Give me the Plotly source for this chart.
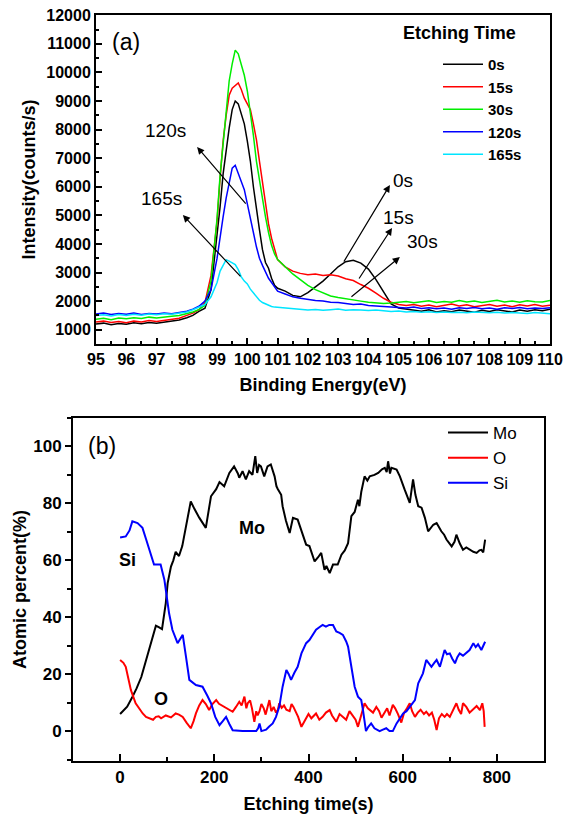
import plotly.graph_objects as go

# ---------------- Panel (a): XPS spectra ----------------
energy = [95.0, 95.25, 95.5, 95.75, 96.0, 96.25, 96.5, 96.75, 97.0, 97.25, 97.5, 97.75,
          98.0, 98.2, 98.4, 98.6, 98.8,
          99.0, 99.1, 99.2, 99.3, 99.4, 99.5, 99.6, 99.7, 99.8, 99.9,
          100.0, 100.1, 100.2, 100.3, 100.4, 100.5, 100.6, 100.7, 100.8, 100.9, 101.0,
          101.25, 101.5, 101.75, 102.0, 102.25, 102.5, 102.75, 103.0, 103.25, 103.5, 103.75,
          104.0, 104.25, 104.5, 104.75, 105.0, 105.25, 105.5, 105.75, 106.0, 106.25, 106.5,
          106.75, 107.0, 107.25, 107.5, 107.75, 108.0, 108.25, 108.5, 108.75, 109.0, 109.25,
          109.5, 109.75, 110.0]

int_0s = [1200, 1230, 1170, 1220, 1190, 1240, 1210, 1250, 1230, 1270, 1300, 1340,
          1420, 1500, 1640, 1750, 2400,
          4300, 5300, 6450, 7300, 8050, 8700, 9000, 8900, 8500, 8200,
          7600, 6900, 6000, 5200, 4500, 3800, 3350, 3150, 2800, 2550, 2450,
          2350, 2200, 2150, 2300, 2500, 2700, 2950, 3200, 3380, 3430, 3330,
          3120, 2750, 2300, 1900, 1760, 1720, 1680, 1650, 1700, 1620, 1660,
          1630, 1690, 1640, 1610, 1680, 1640, 1700, 1650, 1620, 1690, 1650,
          1700, 1660, 1720]

int_15s = [1270, 1300, 1250, 1290, 1240, 1300, 1270, 1320, 1290, 1330, 1360, 1400,
           1500, 1580, 1700, 1950, 2900,
           4800, 6300, 7600, 8500, 9200, 9450, 9550, 9630, 9400, 9100,
           8900, 8700, 8200, 7650, 6900, 6100, 5400, 4700, 4200, 3800, 3450,
           3200, 3050, 2970, 2920, 2950, 2900, 2920, 2880, 2780, 2720, 2580,
           2450, 2280, 2100, 1960, 1880, 1850, 1880, 1820, 1860, 1800, 1850,
           1900, 1830, 1870, 1800, 1850, 1880, 1820, 1860, 1800, 1870, 1830,
           1880, 1820, 1860]

int_30s = [1370, 1400, 1350, 1410, 1380, 1420, 1390, 1440, 1410, 1450, 1470, 1500,
           1560, 1620, 1700, 1850, 2700,
           4900, 6400, 7600, 8700, 9700, 10300, 10780, 10650, 10300, 9900,
           9350, 8600, 7800, 6900, 6200, 5500, 4950, 4400, 3950, 3650, 3450,
           3200, 2950, 2750, 2550, 2400, 2280, 2180, 2130, 2080, 2040, 2000,
           1960, 1940, 1920, 1930, 1950, 1990, 1940, 1980, 2010, 1950, 1990,
           1960, 2020, 1970, 2000, 1950, 1990, 2030, 1970, 2000, 1960, 2010,
           1980, 1970, 2020]

int_120s = [1550, 1580, 1530, 1570, 1540, 1580, 1530, 1570, 1550, 1580, 1560, 1600,
            1650, 1720, 1820, 2000, 2400,
            3500, 4300, 4950, 5600, 6100, 6650, 6750, 6450, 6150, 5900,
            5400, 4950, 4400, 3900, 3500, 3250, 3000, 2800, 2650, 2500, 2350,
            2250, 2150, 2100, 2050, 2020, 2000, 1960, 1950, 1910, 1880, 1900,
            1850, 1830, 1820, 1800, 1780, 1760, 1790, 1740, 1770, 1730, 1760,
            1720, 1770, 1740, 1780, 1730, 1760, 1720, 1770, 1740, 1780, 1730,
            1760, 1740, 1770]

int_165s = [1500, 1520, 1480, 1530, 1500, 1540, 1510, 1550, 1520, 1560, 1540, 1580,
            1620, 1700, 1780, 1880, 2150,
            2650, 3050, 3250, 3450, 3400, 3330, 3280, 3100, 2850, 2700,
            2600, 2420, 2280, 2150, 2030, 1950, 1900, 1850, 1810, 1790, 1780,
            1750, 1720, 1700, 1690, 1710, 1680, 1700, 1720, 1680, 1700, 1690,
            1670, 1690, 1660, 1640, 1650, 1620, 1640, 1610, 1630, 1600, 1620,
            1600, 1610, 1590, 1620, 1600, 1590, 1610, 1580, 1600, 1590, 1570,
            1600, 1580, 1560]

spectra_names = ["0s", "15s", "30s", "120s", "165s"]
spectra_colors = ["#000000", "#ff0000", "#00ee00", "#0000ff", "#00e5ff"]
spectra_values = [int_0s, int_15s, int_30s, int_120s, int_165s]

# arrow labels: label positions, arrow heads and tails (data coordinates)
arrow_labels = ["120s", "165s", "0s", "15s", "30s"]
arrow_label_pos = [(97.28, 7980), (97.15, 5600), (105.15, 6230), (105.0, 4940), (105.8, 4070)]
arrow_heads = [(98.34, 7390), (97.87, 5010), (104.71, 6060), (104.78, 4560), (105.04, 3540)]
arrow_tails = [(99.99, 5360), (99.82, 2810), (103.16, 3330), (103.66, 2740), (103.39, 2110)]

# ---------------- Panel (b): depth profile ----------------
mo_t = [0, 8, 15, 26, 35, 45, 55, 65, 72, 76, 82, 89, 97, 101, 108, 113, 118, 125, 132, 140,
        150, 158, 168, 182, 193, 204, 211, 221, 232, 242, 250, 253, 260, 267, 274, 281, 287,
        291, 295, 299, 306, 313, 320, 328, 332, 335, 342, 345, 352, 360, 367, 377, 388, 395,
        402, 413, 420, 427, 434, 438, 445, 452, 462, 470, 477, 484, 491, 498, 505, 508, 512,
        519, 525, 530, 540, 548, 556, 562, 566, 569, 573, 576, 587, 594, 604, 610, 615, 622,
        627, 633, 640, 647, 654, 665, 672, 682, 688, 693, 700, 704, 710, 714, 721, 728, 735,
        742, 750, 757, 763, 767, 771, 775]
mo_v = [6, 7.5, 8.6, 12, 15, 19, 25, 31, 34.5, 37, 36.5, 35.8, 45, 52, 57.8, 60, 63, 61.5, 65, 72,
        80.7, 78, 75, 71.4, 82.5, 85, 87.5, 86, 90.7, 93, 90.5, 89, 91.3, 88.4, 91.3, 90, 96.6,
        90.7, 93.5, 93, 89.5, 93, 93.7, 89.5, 86, 85, 83, 79, 74, 69.6, 74.9, 74.3, 68.4, 65.5,
        65, 59.6, 61, 62.6, 56.7, 58, 55.5, 58.5, 58.5, 62, 63.5, 66, 75.5, 77, 81.3, 79, 84,
        89.5, 88, 89.5, 90, 90.7, 92, 92.5, 91, 94.8, 90.5, 92.5, 91.9, 89.5, 84.9, 82, 80.2, 88.4,
        83, 79, 78.5, 75, 70.2, 72.5, 73.1, 70.2, 69, 67.3, 66, 64.9, 66.5, 69, 66, 63.7, 64.5,
        63.7, 63, 62.6, 63.5, 63.7, 62.8, 67.3]

o_t = [0, 7, 12, 18, 23, 33, 40, 48, 55, 62, 70, 76, 82, 87, 97, 108, 118, 125, 133, 141,
       150, 156, 161, 168, 175, 182, 189, 196, 204, 210, 214, 225, 232, 239, 246, 253, 258,
       264, 268, 271, 276, 280, 285, 289, 292, 296, 300, 305, 309, 313, 317, 321, 326, 331,
       335, 338, 343, 348, 353, 360, 364, 368, 373, 378, 385, 390, 395, 400, 406, 411, 416,
       423, 430, 437, 445, 450, 455, 459, 466, 473, 480, 487, 494, 500, 505, 512, 519, 526,
       533, 537, 544, 550, 555, 562, 567, 572, 579, 584, 590, 597, 603, 609, 615, 620, 626,
       632, 638, 645, 650, 656, 662, 667, 672, 677, 683, 689, 694, 700, 706, 710, 714, 719,
       724, 728, 735, 742, 749, 757, 764, 769, 772, 774]
o_v = [25, 24, 22.6, 18, 14.4, 9.8, 8, 6.2, 5, 4.5, 4, 5, 5.2, 4.5, 5.5, 4.8, 6.2, 5.8, 5, 3,
       1, 3.5, 6.2, 9, 10.9, 9.5, 7.4, 9.5, 10.9, 9.6, 9.2, 8, 7.2, 6.8, 8.5, 10.3, 9,
       12.1, 8, 9.8, 10.8, 8, 3.3, 7, 5.5, 7, 9.5, 8, 5.8, 8.2, 10.9, 7, 8.5, 6.5,
       7.5, 9.8, 8.2, 9, 7.5, 7, 9.5, 8.5, 7, 5, 1.5, 3, 4, 6, 4.5, 5.5, 6.2,
       4, 5, 6.5, 7.4, 5.5, 4.5, 3.3, 6, 5, 4, 7, 5.5, 4, 1.5, 6, 9.8, 8,
       7, 6.5, 8.5, 7, 4.7, 6.5, 8, 5.5, 9.2, 8, 6, 3, 6.5, 8, 9.8, 7, 5,
       6.5, 7.5, 6, 6.8, 5.5, 6.5, 4, 0.4, 4.5, 6, 5, 6, 5, 7, 8.5, 9.8, 7.5,
       6, 9.8, 8.5, 6.5, 7.5, 8.8, 7.4, 9.8, 7, 1.5]

si_t = [0, 12, 20, 26, 37, 47.5, 55, 62, 72, 86, 94, 104, 111, 122, 133, 140, 147, 161, 175,
        185, 193, 202, 211, 218, 225, 232, 239, 260, 289, 293, 296, 300, 310, 316, 324, 331,
        338, 345, 353, 358, 363, 370, 377, 385, 395, 402, 409, 416, 423, 430, 437, 444, 452,
        459, 466, 473, 480, 484, 491, 498, 505, 512, 516, 519, 522, 527, 533, 540, 551, 558,
        565, 572, 579, 587, 594, 601, 608, 615, 620, 626, 633, 638, 643, 650, 656, 661, 667,
        672, 679, 684, 689, 694, 700, 705, 711, 716, 721, 728, 735, 742, 750, 755, 760, 767, 775]
si_v = [68, 68.4, 70.5, 73.7, 73.1, 71.4, 67.5, 63.7, 58.5, 58.5, 53.2, 41.4, 35.6, 30.9, 33.8,
        26, 18, 16.2, 15.6, 12.5, 9.8, 5, 2.1, 3.5, 5, 2.5, 0.3, 0, 0, 1, 2.7, 0, 0.5, 1.5,
        2.7, 5, 8.6, 15.6, 21.5, 20, 18, 20.5, 22.6, 27.3, 30.9, 32, 34, 35.6, 36.5, 37.3,
        36.7, 37.3, 37.3, 35, 34.5, 33.8, 31.5, 29.7, 22.6, 15.6, 12.1, 10.9, 7, 2.7, 0, 1.5,
        2.7, 1, 0, 0.5, 1, 0, 0, 2.7, 4.5, 6.2, 7, 8.6, 9.5, 10.9, 16.8, 18.5, 20.3, 25,
        23.5, 22.6, 24, 25, 22.6, 25.5, 28.5, 27, 27.3, 25.5, 23.8, 26, 27.3, 26.5, 27.5,
        28.5, 30.9, 29.5, 30.5, 28.5, 31.4]

profile_names = ["Mo", "O", "Si"]
profile_colors = ["#000000", "#ff0000", "#0000ff"]
profile_t = [mo_t, o_t, si_t]
profile_v = [mo_v, o_v, si_v]

# in-plot labels of panel (b): (text, t, value)
profile_labels = [("Si", 15, 60), ("Mo", 281, 71.5), ("O", 87, 11.3)]

# ---------------- figure ----------------
# the page body adds an 8px offset, so the figure is 8px smaller than the window
OFF = 8
W, H = 573 - OFF, 817 - OFF
ML, MR, MT, MB = 73 - OFF, 573 - 550, 15 - OFF, 817 - 761
PW, PH = W - ML - MR, H - MT - MB


def fx(px):
    # screen pixel x -> paper fraction
    return min(1.0, max(0.0, (px - OFF - ML) / PW))


def fy(py):
    # screen pixel y -> paper fraction
    return min(1.0, max(0.0, (H - MB - (py - OFF)) / PH))


FONT = "Liberation Sans, Arial, sans-serif"

fig = go.Figure()

for name, color, vals in zip(spectra_names, spectra_colors, spectra_values):
    fig.add_trace(go.Scatter(x=energy, y=vals, mode="lines", name=name,
                             line=dict(color=color, width=1.5),
                             xaxis="x", yaxis="y", legend="legend"))

for name, color, t, v in zip(profile_names, profile_colors, profile_t, profile_v):
    fig.add_trace(go.Scatter(x=t, y=v, mode="lines", name=name,
                             line=dict(color=color, width=2),
                             xaxis="x2", yaxis="y2", legend="legend2"))

annotations = []
for lab, (lx, ly), (hx, hy), (tx, ty) in zip(arrow_labels, arrow_label_pos, arrow_heads, arrow_tails):
    annotations.append(dict(x=hx, y=hy, ax=tx, ay=ty, xref="x", yref="y", axref="x", ayref="y",
                            text="", showarrow=True, arrowhead=2, arrowsize=1.2, arrowwidth=1.2,
                            arrowcolor="#000000"))
    annotations.append(dict(x=lx, y=ly, xref="x", yref="y", text=lab, showarrow=False,
                            font=dict(family=FONT, size=19, color="#000000")))

annotations.append(dict(x=96.0, y=11056, xref="x", yref="y", text="(a)", showarrow=False,
                        font=dict(family=FONT, size=23, color="#000000")))
annotations.append(dict(x=107.02, y=11370, xref="x", yref="y", text="Etching Time", showarrow=False,
                        font=dict(family=FONT, size=18, color="#000000", weight="bold")))
annotations.append(dict(x=-38, y=100, xref="x2", yref="y2", text="(b)", showarrow=False,
                        font=dict(family=FONT, size=23, color="#000000")))
for lab, t, v in profile_labels:
    annotations.append(dict(x=t, y=v, xref="x2", yref="y2", text=lab, showarrow=False,
                            font=dict(family=FONT, size=18, color="#000000", weight="bold")))

tickfont = dict(family=FONT, size=16, color="#000000", weight="bold")
titlefont = dict(family=FONT, size=18, color="#000000", weight="bold")

fig.update_layout(
    template="none",
    width=W, height=H,
    margin=dict(l=ML, r=MR, t=MT, b=MB, autoexpand=False),
    paper_bgcolor="white", plot_bgcolor="white",
    font=dict(family=FONT, color="#000000"),
    annotations=annotations,
    xaxis=dict(domain=[fx(96), fx(550)], range=[95, 110], anchor="y", automargin=False,
               dtick=1, tick0=95, ticks="inside", ticklen=6, tickwidth=1.5, tickcolor="#000",
               minor=dict(dtick=0.5, ticks="inside", ticklen=3, tickwidth=1.5, tickcolor="#000"),
               showline=True, linecolor="#000", linewidth=2, mirror=True, showgrid=False,
               zeroline=False, tickfont=tickfont, ticklabeloverflow="allow",
               title=dict(text="Binding Energy(eV)", font=titlefont, standoff=11)),
    yaxis=dict(domain=[fy(344), fy(15)], range=[500, 12008], anchor="x", automargin=False,
               dtick=1000, tick0=0, tickformat="d", ticks="inside", ticklen=6, tickwidth=1.5,
               tickcolor="#000", ticklabeloverflow="allow",
               minor=dict(dtick=500, ticks="inside", ticklen=3, tickwidth=1.5, tickcolor="#000"),
               showline=True, linecolor="#000", linewidth=2, mirror=True, showgrid=False,
               zeroline=False, tickfont=tickfont,
               title=dict(text="Intensity(counts/s)", font=titlefont, standoff=6)),
    xaxis2=dict(domain=[fx(73), fx(544)], range=[-100, 900], anchor="y2", automargin=False,
                dtick=200, tick0=0, ticks="inside", ticklen=7, tickwidth=2, tickcolor="#000",
                minor=dict(dtick=100, ticks="inside", ticklen=4, tickwidth=2, tickcolor="#000"),
                showline=True, linecolor="#000", linewidth=2, mirror=True, showgrid=False,
                zeroline=False, tickfont=dict(family=FONT, size=17, color="#000", weight="bold"),
                title=dict(text="Etching time(s)", font=titlefont, standoff=11)),
    yaxis2=dict(domain=[fy(761), fy(418)], range=[-10.5, 110], anchor="x2", automargin=False,
                dtick=20, tick0=0, ticks="outside", ticklen=6, tickwidth=2, tickcolor="#000",
                minor=dict(dtick=10, ticks="outside", ticklen=4, tickwidth=2, tickcolor="#000"),
                showline=True, linecolor="#000", linewidth=2, mirror=True, showgrid=False,
                zeroline=False, tickfont=dict(family=FONT, size=17, color="#000", weight="bold"),
                title=dict(text="Atomic percent(%)", font=titlefont, standoff=2)),
    legend=dict(x=fx(438), y=fy(48), xanchor="left", yanchor="top", bgcolor="rgba(0,0,0,0)",
                font=dict(family=FONT, size=15, color="#000", weight="bold"),
                itemwidth=40, tracegroupgap=0),
    legend2=dict(x=fx(443), y=fy(415), xanchor="left", yanchor="top", bgcolor="rgba(0,0,0,0)",
                 font=dict(family=FONT, size=17, color="#000"),
                 itemwidth=40, tracegroupgap=0),
)

fig.write_html("out.html")
